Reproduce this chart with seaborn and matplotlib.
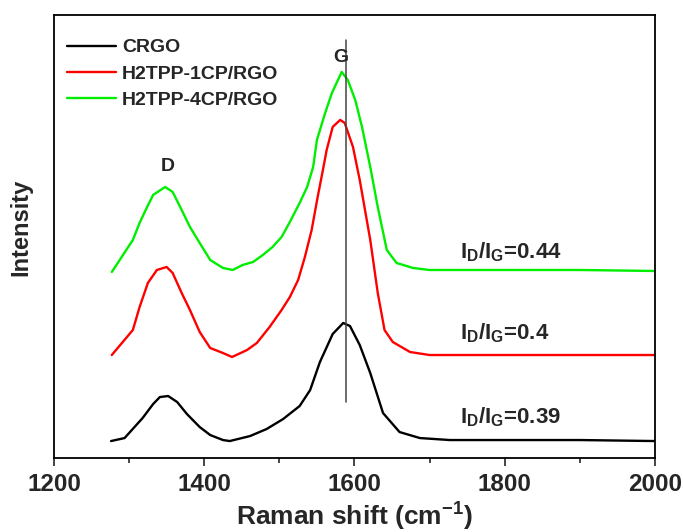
import numpy as np
import pandas as pd
import matplotlib
matplotlib.use('Agg')
import matplotlib.pyplot as plt
from matplotlib.ticker import MultipleLocator
import seaborn as sns

# spectra (Raman shift, intensity in arbitrary offset units)
crgo_x = [1276, 1294, 1318, 1332, 1341, 1352, 1364, 1377, 1394, 1408, 1425, 1434, 1461, 1483,
          1505, 1527, 1541, 1554, 1571, 1585, 1594, 1607, 1621, 1638, 1660, 1687, 1727, 1800,
          1900, 2000]
crgo_y = [17, 20, 40, 54, 61, 62, 56, 44, 31, 23, 18, 17, 22, 29,
          39, 52, 68, 96, 124, 135, 132, 113, 85, 45, 26, 20, 18, 18,
          18, 17]

cp1_x = [1277, 1305, 1314, 1325, 1337, 1350, 1358, 1370, 1381, 1394, 1408, 1425, 1437, 1457,
         1470, 1487, 1503, 1514, 1525, 1534, 1543, 1551, 1558, 1563, 1571, 1581, 1587, 1598,
         1607, 1621, 1631, 1640, 1651, 1674, 1700, 1800, 1900, 2000]
cp1_y = [103, 128, 151, 175, 188, 191, 185, 165, 148, 126, 110, 105, 101, 108,
         115, 131, 148, 161, 178, 201, 228, 261, 288, 308, 331, 338, 335, 311,
         278, 218, 165, 128, 116, 106, 103, 103, 103, 103]

cp4_x = [1277, 1305, 1314, 1324, 1332, 1348, 1358, 1370, 1381, 1394, 1408, 1425, 1438, 1451,
         1465, 1478, 1491, 1503, 1514, 1527, 1537, 1545, 1550, 1561, 1570, 1583, 1591, 1601,
         1610, 1621, 1631, 1643, 1656, 1678, 1700, 1800, 1900, 2000]
cp4_y = [186, 218, 235, 251, 263, 271, 266, 248, 231, 215, 198, 190, 188, 193,
         196, 203, 211, 221, 236, 255, 271, 291, 318, 345, 365, 386, 378, 358,
         331, 291, 251, 208, 195, 190, 188, 188, 188, 187]

names = ['CRGO', 'H2TPP-1CP/RGO', 'H2TPP-4CP/RGO']
colors = ['black', 'red', '#00ee00']
ratios = ['0.39', '0.4', '0.44']
ratio_y = [41, 125, 206]

sns.set_style('ticks')
plt.rcParams['font.family'] = ['Liberation Sans', 'DejaVu Sans']
plt.rcParams['font.weight'] = 'bold'
plt.rcParams['mathtext.fontset'] = 'custom'
plt.rcParams['mathtext.bf'] = 'Liberation Sans:bold'
plt.rcParams['mathtext.rm'] = 'Liberation Sans:bold'
plt.rcParams['mathtext.default'] = 'bf'

fig = plt.figure(figsize=(6.83, 5.32), dpi=100)
ax = fig.add_axes([0.079, 0.139, 0.88, 0.833])

for xs, ys, nm, c in zip([crgo_x, cp1_x, cp4_x], [crgo_y, cp1_y, cp4_y], names, colors):
    sns.lineplot(x=xs, y=ys, color=c, label=nm, lw=1.7, ax=ax, sort=False)

# G band marker
ax.plot([1588.7, 1588.7], [56, 418], color='#444444', lw=1.1)
ax.text(1352, 291, 'D', fontsize=14, ha='center', va='center', fontweight='bold')
ax.text(1582, 400, 'G', fontsize=14, ha='center', va='center', fontweight='bold')
for r, yy in zip(ratios, ratio_y):
    ax.text(1741, yy, r'$I_D/I_G$=' + r, fontsize=16, ha='left', va='center',
            fontweight='bold')

ax.set_xlim(1200, 2000)
ax.set_ylim(0, 443)
ax.xaxis.set_major_locator(MultipleLocator(200))
ax.xaxis.set_minor_locator(MultipleLocator(100))
ax.set_yticks([])
ax.tick_params(axis='x', which='major', direction='out', length=6, width=1.2, labelsize=17.5, pad=5)
ax.tick_params(axis='x', which='minor', direction='out', length=3.5, width=1.2)
for lab in ax.get_xticklabels():
    lab.set_fontweight('bold')
for s in ax.spines.values():
    s.set_visible(True)
    s.set_linewidth(1.3)
    s.set_color('black')

ax.set_xlabel(r'Raman shift (cm$^{-1}$)', fontsize=19, fontweight='bold', labelpad=3)
ax.set_ylabel('Intensity', fontsize=17, fontweight='bold')
ax.yaxis.set_label_coords(-0.036, 0.52)

leg = ax.legend(loc='upper left', frameon=False, fontsize=14, handlelength=2.5,
                handletextpad=0.3, labelspacing=0.45, bbox_to_anchor=(-0.01, 0.99),
                borderaxespad=0.6)
for t in leg.get_texts():
    t.set_fontweight('bold')

fig.savefig('out.png', dpi=100)
